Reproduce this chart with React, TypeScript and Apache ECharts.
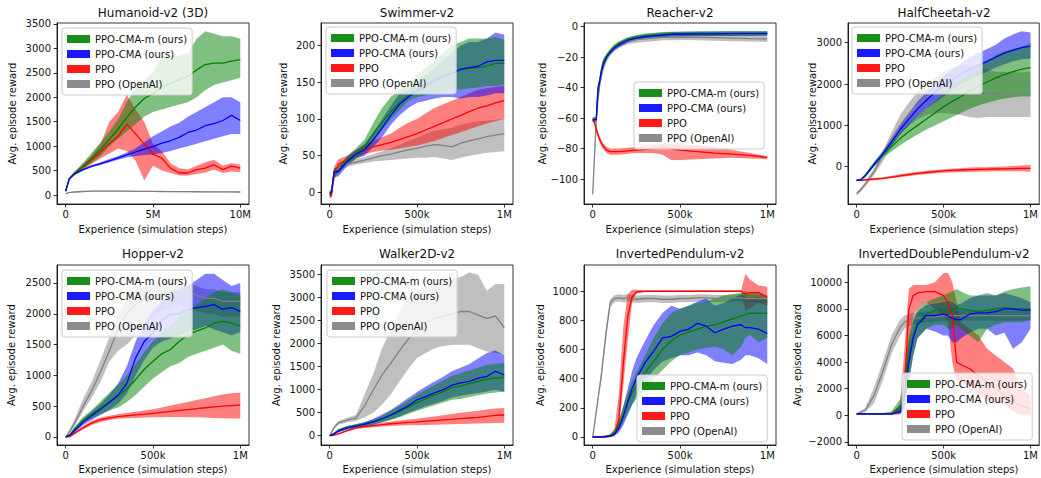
import React, { useEffect, useRef } from "react";
import * as echarts from "echarts";

const FONT = "DejaVu Sans";
const NAMES = ["PPO-CMA-m (ours)", "PPO-CMA (ours)", "PPO", "PPO (OpenAI)"];
const COLORS = ["#008000", "#0000ff", "#ff0000", "#808080"];
const TITLES = ["Humanoid-v2 (3D)", "Swimmer-v2", "Reacher-v2", "HalfCheetah-v2", "Hopper-v2", "Walker2D-v2", "InvertedPendulum-v2", "InvertedDoublePendulum-v2"];
const X_NAME = "Experience (simulation steps)";
const Y_NAME = "Avg. episode reward";

// ---------- Humanoid (x in millions of steps) ----------
const hum_x = [0, 0.2, 0.5, 1, 1.5, 2, 2.5, 3, 3.5, 4, 4.5, 5, 5.5, 6, 6.5, 7, 7.5, 8, 8.5, 9, 9.5, 10];
const hum_cmam = [80, 330, 440, 590, 760, 935, 1140, 1350, 1590, 1800, 1975, 2080, 2200, 2290, 2360, 2430, 2560, 2670, 2700, 2700, 2740, 2770];
const hum_cmam_lo = [60, 300, 400, 520, 660, 800, 1000, 1150, 1300, 1450, 1600, 1700, 1750, 1800, 1850, 1900, 2000, 2150, 2250, 2300, 2350, 2400];
const hum_cmam_hi = [100, 360, 480, 660, 870, 1080, 1300, 1550, 1900, 2200, 2350, 2500, 2850, 2850, 2850, 2900, 3200, 3350, 3300, 3250, 3250, 3200];
const hum_cma = [80, 330, 430, 520, 590, 640, 700, 760, 820, 880, 940, 990, 1060, 1110, 1180, 1280, 1330, 1420, 1460, 1525, 1630, 1525];
const hum_cma_lo = [60, 310, 410, 500, 570, 615, 670, 720, 770, 800, 820, 830, 860, 900, 950, 1000, 1050, 1100, 1150, 1200, 1250, 1250];
const hum_cma_hi = [100, 350, 450, 545, 615, 670, 735, 800, 870, 950, 1080, 1200, 1300, 1400, 1480, 1600, 1700, 1800, 1900, 2000, 2000, 1900];
const hum_ppo = [80, 330, 440, 580, 720, 880, 1050, 1200, 1450, 1250, 1040, 830, 760, 550, 450, 450, 520, 550, 620, 520, 590, 550];
const hum_ppo_lo = [60, 310, 410, 530, 640, 750, 850, 950, 900, 700, 300, 600, 500, 450, 400, 400, 430, 460, 520, 450, 480, 470];
const hum_ppo_hi = [100, 350, 470, 640, 820, 1050, 1500, 1700, 2050, 1750, 1500, 1050, 900, 650, 550, 520, 600, 670, 720, 600, 650, 620];
const hum_oai = [30, 50, 62, 72, 78, 80, 80, 80, 78, 76, 75, 74, 72, 70, 69, 68, 67, 66, 65, 64, 63, 62];
const hum_oai_lo = [20, 40, 52, 62, 68, 70, 70, 70, 68, 66, 65, 64, 62, 60, 59, 58, 57, 56, 55, 54, 53, 52];
const hum_oai_hi = [40, 60, 72, 82, 88, 90, 90, 90, 88, 86, 85, 84, 82, 80, 79, 78, 77, 76, 75, 74, 73, 72];

// ---------- Swimmer (x in thousands of steps) ----------
const swi_x = [0, 10, 25, 50, 100, 150, 200, 250, 300, 350, 400, 450, 500, 550, 600, 650, 700, 750, 800, 850, 900, 950, 1000];
const swi_cmam = [-2, 0, 28, 30, 45, 52, 62, 80, 95, 110, 122, 132, 140, 148, 155, 160, 164, 167, 169, 170, 172, 176, 176];
const swi_cmam_lo = [-5, -5, 20, 26, 40, 45, 55, 68, 85, 100, 112, 125, 130, 132, 135, 138, 140, 140, 142, 143, 145, 145, 147];
const swi_cmam_hi = [2, 3, 33, 35, 50, 60, 72, 95, 115, 130, 140, 148, 160, 170, 180, 190, 200, 205, 210, 210, 210, 212, 208];
const swi_cma = [-2, 0, 28, 28, 42, 52, 58, 72, 88, 105, 120, 130, 138, 145, 152, 158, 162, 168, 170, 172, 178, 180, 180];
const swi_cma_lo = [-5, -5, 20, 22, 36, 46, 50, 62, 75, 92, 105, 115, 122, 125, 128, 130, 130, 128, 130, 130, 132, 135, 135];
const swi_cma_hi = [2, 3, 33, 33, 48, 58, 66, 82, 100, 118, 135, 140, 150, 160, 170, 180, 190, 200, 205, 205, 210, 218, 215];
const swi_ppo = [-5, -5, 25, 38, 45, 52, 58, 62, 65, 68, 72, 76, 80, 85, 90, 95, 100, 105, 110, 115, 118, 122, 125];
const swi_ppo_lo = [-8, -8, 15, 32, 40, 47, 52, 55, 57, 58, 60, 62, 64, 67, 70, 74, 78, 82, 86, 90, 94, 97, 100];
const swi_ppo_hi = [-2, 0, 35, 45, 50, 57, 65, 70, 75, 80, 88, 95, 100, 108, 115, 120, 125, 130, 135, 140, 142, 144, 145];
const swi_oai = [0, 0, 28, 33, 38, 41, 44, 47, 50, 52, 55, 58, 60, 63, 65, 64, 62, 67, 70, 73, 76, 78, 80];
const swi_oai_lo = [-2, -2, 25, 30, 35, 38, 40, 42, 43, 44, 45, 46, 47, 47, 48, 46, 44, 47, 50, 52, 54, 55, 56];
const swi_oai_hi = [2, 2, 31, 36, 42, 45, 48, 52, 56, 60, 65, 70, 74, 80, 84, 86, 88, 92, 95, 97, 98, 99, 100];

// ---------- Reacher ----------
const rea_x = [0, 10, 20, 25, 30, 40, 50, 60, 80, 100, 125, 150, 200, 250, 300, 350, 400, 450, 500, 600, 700, 800, 900, 1000];
const rea_cmam = [-61, -61, -61, -50, -40, -35, -28, -23, -19, -16, -13, -11, -8.5, -7, -6, -5.5, -5, -4.8, -4.6, -4.5, -4.5, -4.4, -4.4, -4.3];
const rea_cmam_lo = [-62.5, -62.5, -62.5, -53, -42, -37, -30, -25, -20.5, -17.5, -14.5, -12.5, -10, -8.5, -7.5, -7, -6.5, -6.3, -6.1, -6, -6, -5.9, -5.9, -5.8];
const rea_cmam_hi = [-59.5, -59.5, -59.5, -47, -38, -33, -26, -21, -17.5, -14.5, -11.5, -9.5, -7, -5.5, -4.5, -4, -3.5, -3.3, -3.1, -3, -3, -2.9, -2.9, -2.8];
const rea_cma = [-61, -61, -61, -52, -42, -36, -29, -25, -20, -17, -14, -12, -9, -7.5, -6.5, -6, -5.5, -5, -5, -4.8, -4.7, -4.6, -4.6, -4.6];
const rea_cma_lo = [-62.5, -62.5, -62.5, -55, -44, -38, -31, -27, -21.5, -18.5, -15.5, -13.5, -10.5, -9, -8, -7.5, -7, -6.5, -6.5, -6.3, -6.2, -6.1, -6.1, -6.1];
const rea_cma_hi = [-59.5, -59.5, -59.5, -49, -40, -34, -27, -23, -18.5, -15.5, -12.5, -10.5, -7.5, -6, -5, -4.5, -4, -3.5, -3.5, -3.3, -3.2, -3.1, -3.1, -3.1];
const rea_ppo = [-61, -63, -67, -69, -71, -74, -76.5, -78.5, -81, -82, -82, -82, -81.5, -81, -80.5, -80, -79.5, -80, -81, -82, -83, -83.7, -84.5, -85.8];
const rea_ppo_lo = [-62, -65, -69, -71, -73, -76, -78.5, -80.5, -83, -84, -84, -84, -83.5, -83, -83, -83, -84, -87.5, -87.5, -87, -86.5, -86, -86.5, -87];
const rea_ppo_hi = [-60, -61, -65, -67, -69, -72, -74.5, -76.5, -79, -80, -80, -80, -79.5, -79, -78, -77.5, -77, -76.5, -77, -78, -79, -81, -83, -85];
const rea_oai = [-110, -85, -62, -55, -48, -38, -32, -27, -21, -17, -14, -12, -9.5, -8.5, -8, -7.5, -7, -7, -6.8, -7, -7.2, -7.5, -7.8, -8];
const rea_oai_lo = [-112, -88, -65, -58, -51, -41, -34.5, -29.5, -23, -19, -16, -14, -11.5, -10.5, -10, -9.5, -9, -9, -8.8, -9, -9.2, -9.5, -9.8, -10];
const rea_oai_hi = [-108, -82, -59, -52, -45, -35, -29.5, -24.5, -19, -15, -12, -10, -7.5, -6.5, -6, -5.5, -5, -5, -4.8, -5, -5.2, -5.5, -5.8, -6];

// ---------- HalfCheetah ----------
const hal_x = [0, 25, 50, 100, 150, 200, 250, 300, 350, 400, 450, 500, 550, 600, 650, 700, 750, 800, 850, 900, 950, 1000];
const hal_cmam = [-330, -310, -200, 70, 300, 480, 680, 850, 1000, 1150, 1300, 1450, 1580, 1700, 1830, 1950, 2050, 2150, 2230, 2300, 2360, 2400];
const hal_cmam_lo = [-350, -330, -230, 20, 220, 370, 520, 650, 780, 900, 1000, 1100, 1200, 1300, 1400, 1480, 1550, 1600, 1650, 1680, 1700, 1700];
const hal_cmam_hi = [-310, -290, -170, 120, 380, 600, 830, 1050, 1230, 1400, 1580, 1780, 1950, 2100, 2250, 2400, 2550, 2700, 2800, 2850, 2900, 3000];
const hal_cma = [-330, -310, -220, 50, 300, 600, 900, 1150, 1400, 1600, 1800, 1950, 2100, 2250, 2350, 2450, 2550, 2650, 2750, 2820, 2880, 2920];
const hal_cma_lo = [-350, -330, -250, 0, 230, 500, 780, 1000, 1220, 1400, 1550, 1700, 1850, 2000, 2100, 2200, 2300, 2400, 2480, 2550, 2600, 2620];
const hal_cma_hi = [-310, -290, -190, 100, 370, 700, 1020, 1300, 1580, 1800, 2000, 2200, 2350, 2500, 2650, 2750, 2850, 2950, 3100, 3200, 3280, 3250];
const hal_ppo = [-330, -330, -320, -300, -280, -250, -220, -190, -160, -140, -120, -100, -90, -80, -70, -65, -60, -55, -50, -45, -40, -40];
const hal_ppo_lo = [-350, -350, -340, -325, -305, -280, -255, -225, -200, -180, -165, -145, -140, -130, -125, -120, -115, -110, -110, -110, -110, -120];
const hal_ppo_hi = [-310, -310, -300, -275, -255, -220, -185, -155, -120, -100, -80, -60, -45, -35, -20, -15, -10, 0, 5, 15, 30, 40];
const hal_oai = [-650, -550, -420, -120, 250, 650, 1000, 1280, 1500, 1680, 1800, 1860, 1880, 1880, 1850, 1800, 1780, 1760, 1750, 1750, 1740, 1750];
const hal_oai_lo = [-700, -600, -480, -200, 120, 480, 780, 1000, 1150, 1250, 1300, 1300, 1280, 1250, 1200, 1180, 1200, 1200, 1200, 1200, 1200, 1200];
const hal_oai_hi = [-600, -500, -360, -40, 380, 820, 1250, 1550, 1800, 2000, 2150, 2300, 2400, 2450, 2450, 2400, 2350, 2300, 2300, 2300, 2280, 2300];

// ---------- Hopper ----------
const hop_x = [0, 25, 50, 100, 150, 200, 250, 300, 350, 400, 450, 500, 550, 600, 650, 700, 750, 800, 850, 900, 950, 1000];
const hop_cmam = [0, 40, 130, 280, 370, 470, 570, 660, 780, 930, 1100, 1230, 1350, 1420, 1550, 1660, 1720, 1770, 1850, 1880, 1850, 1800];
const hop_cmam_lo = [-10, 20, 100, 230, 300, 370, 430, 480, 570, 680, 820, 950, 1050, 1150, 1200, 1300, 1350, 1400, 1450, 1500, 1400, 1350];
const hop_cmam_hi = [10, 60, 160, 330, 440, 580, 720, 850, 1000, 1180, 1380, 1550, 1700, 1800, 1950, 2050, 2150, 2250, 2350, 2400, 2350, 2300];
const hop_cma = [0, 30, 100, 240, 350, 450, 560, 680, 870, 1280, 1550, 1690, 1900, 1990, 2000, 2070, 2100, 2120, 2150, 2070, 2100, 2040];
const hop_cma_lo = [-10, 10, 70, 190, 280, 360, 440, 540, 700, 1000, 1250, 1450, 1550, 1600, 1650, 1700, 1750, 1800, 1750, 1700, 1650, 1700];
const hop_cma_hi = [10, 50, 130, 290, 420, 540, 690, 870, 1150, 1550, 1850, 2050, 2200, 2300, 2400, 2450, 2550, 2650, 2650, 2550, 2450, 2500];
const hop_ppo = [0, 10, 60, 150, 230, 280, 310, 330, 345, 360, 370, 385, 400, 415, 430, 445, 460, 475, 490, 500, 510, 520];
const hop_ppo_lo = [-5, 0, 40, 120, 195, 245, 275, 295, 305, 310, 315, 320, 320, 325, 325, 320, 320, 315, 310, 305, 300, 300];
const hop_ppo_hi = [5, 25, 80, 180, 265, 315, 345, 370, 390, 410, 430, 450, 480, 510, 540, 570, 600, 630, 660, 690, 710, 720];
const hop_oai = [0, 100, 220, 500, 760, 1060, 1400, 1750, 2000, 2150, 2250, 2300, 2330, 2350, 2370, 2350, 2300, 2250, 2250, 2200, 2200, 2200];
const hop_oai_lo = [-10, 70, 170, 420, 640, 900, 1220, 1400, 1500, 1650, 1800, 1950, 2050, 2100, 2150, 2100, 2050, 2000, 2000, 1950, 1950, 1950];
const hop_oai_hi = [10, 140, 280, 620, 900, 1250, 1620, 1980, 2250, 2400, 2450, 2500, 2520, 2540, 2550, 2500, 2450, 2400, 2400, 2350, 2350, 2350];

// ---------- Walker2D ----------
const wal_x = [0, 25, 50, 100, 150, 200, 250, 300, 350, 400, 450, 500, 550, 600, 650, 700, 750, 800, 850, 900, 950, 1000];
const wal_cmam = [0, 50, 120, 180, 220, 250, 300, 360, 440, 520, 620, 720, 800, 880, 960, 1050, 1080, 1130, 1180, 1230, 1250, 1270];
const wal_cmam_lo = [-10, 30, 90, 150, 190, 210, 250, 290, 340, 400, 470, 540, 600, 660, 720, 780, 800, 840, 880, 920, 940, 960];
const wal_cmam_hi = [10, 70, 150, 210, 250, 290, 350, 430, 540, 650, 770, 890, 1000, 1100, 1200, 1300, 1360, 1420, 1480, 1540, 1560, 1580];
const wal_cma = [0, 40, 100, 170, 210, 250, 300, 370, 450, 550, 650, 780, 850, 930, 1000, 1100, 1150, 1180, 1250, 1290, 1400, 1320];
const wal_cma_lo = [-10, 20, 70, 130, 170, 200, 240, 290, 350, 420, 500, 570, 640, 700, 760, 830, 870, 900, 930, 960, 1000, 950];
const wal_cma_hi = [10, 60, 130, 210, 250, 300, 370, 460, 560, 690, 820, 950, 1070, 1180, 1280, 1400, 1480, 1560, 1680, 1800, 1850, 1750];
const wal_ppo = [0, 10, 40, 110, 170, 200, 220, 240, 260, 275, 290, 300, 315, 330, 345, 355, 370, 385, 400, 420, 440, 450];
const wal_ppo_lo = [-5, 0, 25, 90, 145, 170, 185, 200, 210, 220, 225, 230, 235, 240, 245, 250, 255, 260, 265, 270, 275, 280];
const wal_ppo_hi = [5, 20, 55, 130, 195, 230, 255, 280, 310, 330, 350, 370, 395, 420, 445, 470, 500, 520, 545, 570, 590, 600];
const wal_oai = [0, 180, 280, 340, 380, 650, 1000, 1320, 1580, 1850, 2100, 2300, 2450, 2550, 2600, 2650, 2700, 2700, 2620, 2550, 2600, 2350];
const wal_oai_lo = [-10, 150, 240, 290, 320, 400, 500, 680, 900, 1180, 1450, 1690, 1800, 1900, 1950, 1980, 1980, 1980, 1900, 1830, 1800, 1760];
const wal_oai_hi = [10, 210, 320, 390, 450, 900, 1350, 1900, 2300, 2700, 3000, 3150, 3250, 3300, 3350, 3400, 3450, 3550, 3500, 3150, 3300, 3300];

// ---------- InvertedPendulum ----------
const ip_x = [0, 50, 75, 100, 125, 150, 175, 200, 225, 250, 300, 350, 400, 450, 500, 550, 600, 650, 700, 750, 800, 850, 875, 900, 950, 1000];
const ip_cmam = [0, 2, 5, 10, 30, 80, 150, 230, 300, 350, 440, 520, 600, 660, 700, 720, 740, 760, 770, 790, 810, 830, 840, 850, 850, 850];
const ip_cmam_lo = [-5, -3, 0, 2, 15, 50, 100, 160, 220, 260, 320, 400, 460, 520, 560, 580, 600, 610, 620, 600, 560, 620, 680, 700, 650, 680];
const ip_cmam_hi = [5, 7, 12, 20, 50, 120, 210, 300, 380, 440, 560, 680, 780, 850, 880, 900, 920, 930, 950, 970, 980, 990, 1000, 990, 990, 960];
const ip_cma = [0, 1, 3, 6, 20, 60, 140, 240, 330, 400, 510, 590, 680, 690, 725, 740, 780, 760, 715, 740, 760, 770, 750, 750, 740, 710];
const ip_cma_lo = [-5, -3, -2, 0, 8, 30, 80, 150, 220, 290, 380, 460, 520, 540, 560, 560, 580, 560, 520, 510, 500, 530, 560, 560, 540, 500];
const ip_cma_hi = [5, 5, 8, 15, 40, 100, 210, 330, 450, 540, 660, 770, 850, 900, 880, 900, 930, 950, 900, 920, 950, 980, 960, 950, 960, 940];
const ip_ppo = [0, 0, 0, 5, 20, 120, 500, 820, 960, 995, 1000, 1000, 1000, 1000, 1000, 1000, 1000, 1000, 1000, 1000, 1000, 1000, 980, 990, 990, 960];
const ip_ppo_lo = [-5, -5, -5, 0, 5, 60, 350, 650, 920, 985, 995, 995, 995, 995, 995, 995, 995, 995, 995, 995, 995, 995, 860, 880, 920, 900];
const ip_ppo_hi = [5, 5, 5, 10, 60, 300, 750, 980, 1010, 1010, 1005, 1005, 1005, 1005, 1005, 1005, 1005, 1005, 1005, 1005, 1005, 1005, 1120, 1080, 1040, 1030];
const ip_oai = [0, 430, 700, 920, 950, 955, 950, 955, 950, 945, 950, 950, 945, 945, 950, 950, 955, 955, 950, 950, 955, 955, 950, 950, 950, 950];
const ip_oai_lo = [-5, 400, 660, 890, 925, 930, 925, 930, 925, 920, 925, 925, 920, 920, 925, 925, 930, 930, 925, 925, 930, 930, 925, 925, 925, 925];
const ip_oai_hi = [5, 470, 740, 945, 975, 980, 975, 980, 975, 970, 975, 975, 970, 970, 975, 975, 980, 980, 975, 975, 980, 980, 975, 975, 975, 975];

// ---------- InvertedDoublePendulum ----------
const idp_x = [0, 50, 100, 150, 200, 250, 275, 300, 325, 350, 400, 450, 500, 525, 550, 575, 600, 650, 700, 750, 800, 850, 900, 950, 1000];
const idp_cmam = [100, 100, 100, 100, 150, 500, 2000, 4500, 6000, 7000, 7600, 7900, 8000, 8000, 8000, 8100, 8000, 7900, 7800, 7900, 8000, 8100, 8000, 8000, 8000];
const idp_cmam_lo = [50, 50, 50, 50, 80, 200, 800, 2500, 4500, 5800, 6500, 6800, 6800, 6500, 6500, 6800, 6500, 6000, 5500, 6500, 6800, 7000, 7000, 7000, 7200];
const idp_cmam_hi = [150, 150, 150, 180, 300, 1200, 3500, 6000, 7200, 8000, 8500, 8800, 9000, 9200, 9300, 9500, 9300, 9000, 9000, 9200, 9000, 9300, 9500, 9600, 9700];
const idp_cma = [100, 100, 100, 100, 100, 300, 1500, 4000, 5800, 6800, 7500, 7500, 7600, 7500, 7300, 7200, 7200, 7600, 7700, 7700, 7800, 8000, 8000, 7900, 7900];
const idp_cma_lo = [50, 50, 50, 50, 50, 100, 500, 2500, 4500, 5800, 6500, 6300, 6000, 6000, 5500, 5500, 5800, 6200, 6500, 6500, 6000, 6200, 5000, 5500, 6500];
const idp_cma_hi = [150, 150, 150, 150, 150, 800, 3000, 5500, 7000, 7800, 8300, 8400, 8500, 8600, 8500, 8300, 8400, 8800, 9000, 9000, 9000, 9200, 9000, 8800, 8500];
const idp_ppo = [100, 100, 100, 100, 100, 300, 2000, 8000, 9000, 9200, 9300, 9300, 9000, 8500, 7500, 4000, 3800, 3500, 3000, 2500, 2000, 1500, 1000, 700, 500];
const idp_ppo_lo = [50, 50, 50, 50, 50, 100, 500, 4500, 7500, 8000, 8500, 8000, 7500, 7000, 4000, 2500, 2500, 2000, 1500, 1200, 1000, 800, 300, 0, 0];
const idp_ppo_hi = [150, 150, 150, 150, 200, 800, 5000, 9500, 9800, 9800, 9800, 10000, 10700, 10700, 10000, 8500, 7000, 6500, 6000, 5000, 4500, 4000, 3500, 2000, 1500];
const idp_oai = [100, 400, 1500, 3300, 5300, 6600, 7000, 7200, 7300, 7300, 7400, 7400, 7500, 7500, 7500, 7500, 7500, 7500, 7500, 7500, 7500, 7500, 7500, 7500, 7500];
const idp_oai_lo = [50, 250, 900, 2600, 4600, 6000, 6500, 6700, 6800, 6900, 7000, 7000, 7100, 7100, 7100, 7100, 7100, 7100, 7100, 7100, 7100, 7100, 7100, 7100, 7100];
const idp_oai_hi = [150, 550, 2100, 4000, 6000, 7200, 7500, 7600, 7700, 7700, 7800, 7800, 7900, 7900, 7900, 7900, 7900, 7900, 7900, 7900, 7900, 7900, 7900, 7900, 7900];

// ---------- ticks ----------
const hum_yticks = [0, 500, 1000, 1500, 2000, 2500, 3000, 3500];
const swi_yticks = [0, 50, 100, 150, 200];
const rea_yticks = [-100, -80, -60, -40, -20, 0];
const hal_yticks = [0, 1000, 2000, 3000];
const hop_yticks = [0, 500, 1000, 1500, 2000, 2500];
const wal_yticks = [0, 500, 1000, 1500, 2000, 2500, 3000, 3500];
const ip_yticks = [0, 200, 400, 600, 800, 1000];
const idp_yticks = [-2000, 0, 2000, 4000, 6000, 8000, 10000];
const hum_xticks = [0, 5, 10];
const k_xticks = [0, 500, 1000];

type Algo = [number[], number[], number[]];
interface Panel {
  xs: number[];
  algos: Algo[];
  yticks: number[];
  xticks: number[];
  ymin: number;
  ymax: number;
  xmin: number;
  xmax: number;
  xunit: "M" | "k";
  left: number;
  top: number;
  height: number;
  legend: [number, number];
  yNameOffset: number;
}

const COL_LEFT = [57, 321, 584, 848];
const ROW_TOP = [23, 265];
const ROW_H = [181, 180];
const GRID_W = 192;

const PANELS: Panel[] = [
  { xs: hum_x, algos: [[hum_cmam_lo, hum_cmam, hum_cmam_hi], [hum_cma_lo, hum_cma, hum_cma_hi], [hum_ppo_lo, hum_ppo, hum_ppo_hi], [hum_oai_lo, hum_oai, hum_oai_hi]], yticks: hum_yticks, xticks: hum_xticks, ymin: -184, ymax: 3520, xmin: -0.5, xmax: 10.5, xunit: "M", left: COL_LEFT[0], top: ROW_TOP[0], height: ROW_H[0], legend: [62, 28], yNameOffset: 44.5 },
  { xs: swi_x, algos: [[swi_cmam_lo, swi_cmam, swi_cmam_hi], [swi_cma_lo, swi_cma, swi_cma_hi], [swi_ppo_lo, swi_ppo, swi_ppo_hi], [swi_oai_lo, swi_oai, swi_oai_hi]], yticks: swi_yticks, xticks: k_xticks, ymin: -16, ymax: 231, xmin: -50, xmax: 1050, xunit: "k", left: COL_LEFT[1], top: ROW_TOP[0], height: ROW_H[0], legend: [326, 27], yNameOffset: 37.5 },
  { xs: rea_x, algos: [[rea_cmam_lo, rea_cmam, rea_cmam_hi], [rea_cma_lo, rea_cma, rea_cma_hi], [rea_ppo_lo, rea_ppo, rea_ppo_hi], [rea_oai_lo, rea_oai, rea_oai_hi]], yticks: rea_yticks, xticks: k_xticks, ymin: -116.4, ymax: 2.4, xmin: -50, xmax: 1050, xunit: "k", left: COL_LEFT[2], top: ROW_TOP[0], height: ROW_H[0], legend: [634, 82], yNameOffset: 41.5 },
  { xs: hal_x, algos: [[hal_cmam_lo, hal_cmam, hal_cmam_hi], [hal_cma_lo, hal_cma, hal_cma_hi], [hal_ppo_lo, hal_ppo, hal_ppo_hi], [hal_oai_lo, hal_oai, hal_oai_hi]], yticks: hal_yticks, xticks: k_xticks, ymin: -902, ymax: 3477, xmin: -50, xmax: 1050, xunit: "k", left: COL_LEFT[3], top: ROW_TOP[0], height: ROW_H[0], legend: [852, 27], yNameOffset: 35.5 },
  { xs: hop_x, algos: [[hop_cmam_lo, hop_cmam, hop_cmam_hi], [hop_cma_lo, hop_cma, hop_cma_hi], [hop_ppo_lo, hop_ppo, hop_ppo_hi], [hop_oai_lo, hop_oai, hop_oai_hi]], yticks: hop_yticks, xticks: k_xticks, ymin: -130, ymax: 2792, xmin: -50, xmax: 1050, xunit: "k", left: COL_LEFT[0], top: ROW_TOP[1], height: ROW_H[1], legend: [62, 270], yNameOffset: 45.5 },
  { xs: wal_x, algos: [[wal_cmam_lo, wal_cmam, wal_cmam_hi], [wal_cma_lo, wal_cma, wal_cma_hi], [wal_ppo_lo, wal_ppo, wal_ppo_hi], [wal_oai_lo, wal_oai, wal_oai_hi]], yticks: wal_yticks, xticks: k_xticks, ymin: -202, ymax: 3711, xmin: -50, xmax: 1050, xunit: "k", left: COL_LEFT[1], top: ROW_TOP[1], height: ROW_H[1], legend: [327, 270], yNameOffset: 44.3 },
  { xs: ip_x, algos: [[ip_cmam_lo, ip_cmam, ip_cmam_hi], [ip_cma_lo, ip_cma, ip_cma_hi], [ip_ppo_lo, ip_ppo, ip_ppo_hi], [ip_oai_lo, ip_oai, ip_oai_hi]], yticks: ip_yticks, xticks: k_xticks, ymin: -55, ymax: 1180, xmin: -50, xmax: 1050, xunit: "k", left: COL_LEFT[2], top: ROW_TOP[1], height: ROW_H[1], legend: [637, 375], yNameOffset: 43.2 },
  { xs: idp_x, algos: [[idp_cmam_lo, idp_cmam, idp_cmam_hi], [idp_cma_lo, idp_cma, idp_cma_hi], [idp_ppo_lo, idp_ppo, idp_ppo_hi], [idp_oai_lo, idp_oai, idp_oai_hi]], yticks: idp_yticks, xticks: k_xticks, ymin: -2233, ymax: 11300, xmin: -50, xmax: 1050, xunit: "k", left: COL_LEFT[3], top: ROW_TOP[1], height: ROW_H[1], legend: [902, 373], yNameOffset: 50.5 },
];

const TEXT = { fontFamily: FONT, fontSize: 10, color: "#111", fontWeight: "normal" as const };
const GFONT = `normal 10px "${FONT}"`;

function buildOption() {
  const grid: any[] = [];
  const xAxis: any[] = [];
  const yAxis: any[] = [];
  const series: any[] = [];
  const title: any[] = [];
  const legend: any[] = [];
  const graphic: any[] = [];

  PANELS.forEach((p, i) => {
    grid.push({ left: p.left, top: p.top, width: GRID_W, height: p.height, show: true, borderColor: "#000", borderWidth: 0.8, backgroundColor: "transparent" });
    const xfmt = (v: number) => (v === 0 ? "0" : p.xunit === "M" ? `${v}M` : v === 1000 ? "1M" : `${v}k`);
    xAxis.push({
      gridIndex: i, type: "value", min: p.xmin, max: p.xmax,
      axisLine: { show: true, onZero: false, lineStyle: { color: "#000", width: 0.8 } },
      axisTick: { show: true, length: 3.5, customValues: p.xticks, lineStyle: { color: "#000", width: 0.8 } },
      axisLabel: { customValues: p.xticks, formatter: xfmt, margin: 5, ...TEXT },
      splitLine: { show: false },
    });
    yAxis.push({
      gridIndex: i, type: "value", min: p.ymin, max: p.ymax,
      axisLine: { show: true, onZero: false, lineStyle: { color: "#000", width: 0.8 } },
      axisTick: { show: true, length: 3.5, customValues: p.yticks, lineStyle: { color: "#000", width: 0.8 } },
      axisLabel: { customValues: p.yticks, formatter: (v: number) => (v < 0 ? "\u2212" + -v : String(v)), margin: 6, ...TEXT },
      splitLine: { show: false },
    });
    title.push({
      text: TITLES[i], left: p.left + GRID_W / 2, top: i < 4 ? 7 : 248, textAlign: "center", padding: 0,
      textStyle: { fontFamily: FONT, fontSize: 12, fontWeight: "normal", color: "#111" },
    });
    graphic.push({
      type: "text", x: p.left + GRID_W / 2, y: p.top + p.height + (i < 4 ? 25 : 24.5), silent: true,
      style: { text: X_NAME, font: GFONT, fill: "#111", textAlign: "center", textVerticalAlign: "middle" },
    });
    graphic.push({
      type: "text", x: p.left - p.yNameOffset, y: p.top + p.height / 2, rotation: Math.PI / 2, silent: true,
      style: { text: Y_NAME, font: GFONT, fill: "#111", textAlign: "center", textVerticalAlign: "middle" },
    });
    legend.push({
      left: p.legend[0], top: p.legend[1], orient: "vertical", icon: "rect", itemWidth: 23, itemHeight: 8, itemGap: 3,
      padding: 5, backgroundColor: "rgba(255,255,255,0.8)", borderColor: "#cccccc", borderWidth: 1, borderRadius: 3,
      selectedMode: false, textStyle: { ...TEXT, lineHeight: 12 },
      data: NAMES.map((n, a) => ({ name: n, itemStyle: { color: COLORS[a], opacity: 0.9 } })),
    });

    // bands: OpenAI, PPO, PPO-CMA, PPO-CMA-m
    [3, 2, 1, 0].forEach((a) => {
      const [lo, , hi] = p.algos[a];
      const xs = p.xs;
      series.push({
        type: "custom", name: NAMES[a], xAxisIndex: i, yAxisIndex: i, silent: true, z: 2,
        itemStyle: { color: COLORS[a] },
        data: xs.map((x, j) => [x, lo[j], hi[j]]),
        encode: { x: 0, y: [1, 2] },
        renderItem: (params: any, api: any) => {
          if (params.dataIndex !== 0) return null;
          const up = xs.map((x, j) => api.coord([x, hi[j]]));
          const dn = xs.map((x, j) => api.coord([x, lo[j]])).reverse();
          return { type: "polygon", shape: { points: up.concat(dn) }, style: { fill: COLORS[a], opacity: 0.5 } };
        },
      });
    });
    // mean lines
    [3, 2, 0, 1].forEach((a) => {
      const mid = p.algos[a][1];
      series.push({
        type: "line", xAxisIndex: i, yAxisIndex: i, silent: true, z: 3, symbol: "none",
        data: p.xs.map((x, j) => [x, mid[j]]),
        lineStyle: { color: COLORS[a], width: 1.3 }, itemStyle: { color: COLORS[a] },
      });
    });
  });

  return { animation: false, backgroundColor: "#fff", grid, xAxis, yAxis, series, title, legend, graphic, tooltip: { show: false } };
}

export default function App() {
  const ref = useRef<HTMLDivElement>(null);
  useEffect(() => {
    if (!ref.current) return;
    const chart = echarts.init(ref.current, undefined, { renderer: "svg" });
    chart.setOption(buildOption() as any);
    return () => chart.dispose();
  }, []);
  return <div ref={ref} style={{ position: "absolute", left: 0, top: 0, width: 1041, height: 478 }} />;
}
